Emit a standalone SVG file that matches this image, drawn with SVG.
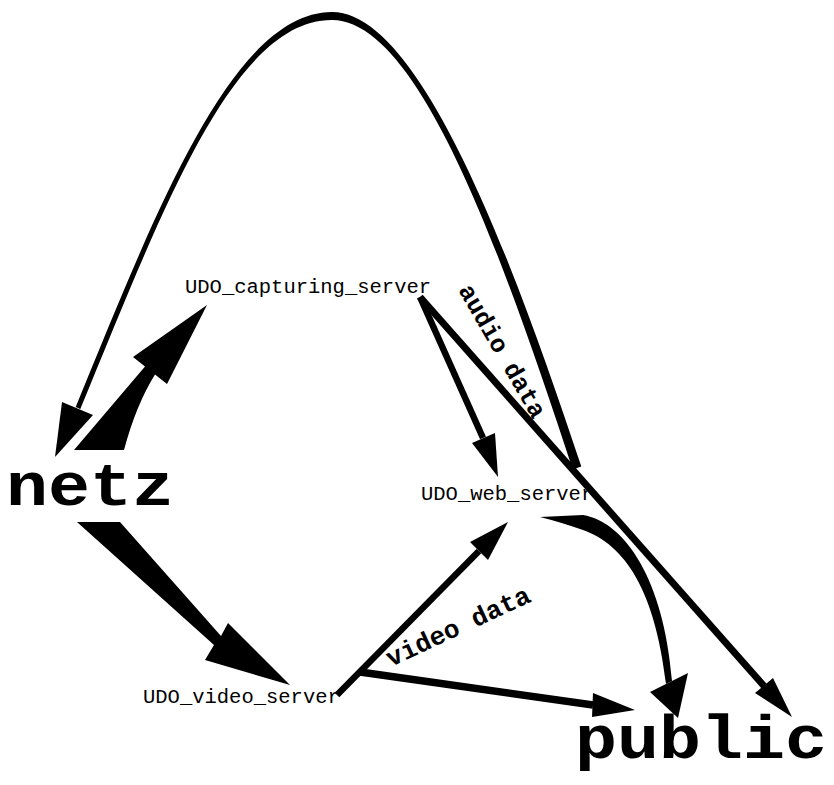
<svg xmlns="http://www.w3.org/2000/svg" width="834" height="785" viewBox="0 0 834 785">
<style>
  text { font-family: "Liberation Mono", "Courier New", monospace; fill: #000; }
  .big { font-size: 70px; font-weight: bold; }
  .small { font-size: 20.5px; }
  .elabel { font-size: 25px; font-weight: bold; }
  .edge { fill: none; stroke: #000; stroke-linecap: butt; }
  .solid { fill: #000; stroke: none; }
</style>
<rect width="834" height="785" fill="#fff"/>
<g id="netz"><text class="big" x="0" y="0" transform="translate(6 505) scale(1 0.88)">netz</text></g>
<g id="public"><text class="big" x="0" y="0" transform="translate(575 758) scale(1 0.88)">public</text></g>
<g id="UDO_capturing_server"><text class="small" x="185" y="293">UDO_capturing_server</text></g>
<g id="UDO_web_server"><text class="small" x="421" y="500">UDO_web_server</text></g>
<g id="UDO_video_server"><text class="small" x="143" y="703">UDO_video_server</text></g>
<g id="connectors">
  <text class="elabel" x="458" y="290" transform="rotate(60 458 290)">audio data</text>
  <text class="elabel" x="391" y="667" style="font-size:26px" transform="rotate(-25 391 667)">video data</text>
  <!-- big arc web_server -> netz -->
  <path class="solid" d="M581.3,466.6 C512.1,257.6 420,11.9 332,12 C232,12.3 155.4,212.9 75.7,407 L80.3,409 C160.6,215.1 232,19.7 332,20 C420,20.1 503.9,260.4 572.7,469.4 Z"/>
  <polygon class="solid" points="55,457 62,402 93,415"/>
  <!-- netz -> capturing -->
  <path class="solid" d="M74,450 L124,450 Q136,405 155,374.5 L167,384 L207,305 L133,357 L145,366.5 Z"/>
  <!-- netz -> video -->
  <path class="solid" d="M77,522 L120,522 L221,636 L228,623 L290,685 L205,660 L214,645 Z"/>
  <!-- capturing -> web -->
  <path class="edge" stroke-width="6.5" d="M420,297 L483,438"/>
  <polygon class="solid" points="472,443 498,477 495,433"/>
  <!-- capturing -> public -->
  <path class="edge" stroke-width="7" d="M420,297 L764,686"/>
  <polygon class="solid" points="755,693 792,717 773,678"/>
  <!-- video -> web -->
  <path class="edge" stroke-width="6.5" d="M337,695 L479,551"/>
  <polygon class="solid" points="470,542 508,522 488,560"/>
  <!-- video -> public -->
  <path class="edge" stroke-width="7.5" d="M360,672 L593,705"/>
  <polygon class="solid" points="593,693 635,710 592,717"/>
  <!-- web -> public -->
  <path class="solid" d="M540,517 L583,515 C625,522 664,580 672,681 L666,684 C655,590 625,545 583,530 Q560,522 540,517 Z"/>
  <polygon class="solid" points="650,692 678,718 688,673"/>
</g>
</svg>
